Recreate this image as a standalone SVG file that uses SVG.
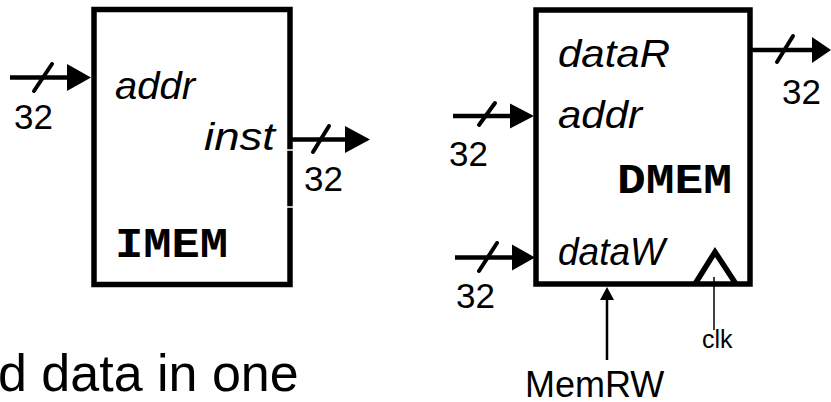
<svg xmlns="http://www.w3.org/2000/svg" width="831" height="402" viewBox="0 0 831 402">
  <style>
    .box { fill: #fff; stroke: #000; stroke-width: 5.5; }
    .bus { stroke: #000; stroke-width: 4.5; fill: none; }
    .slash { stroke: #000; stroke-width: 4; stroke-linecap: round; }
    .head { fill: #000; }
    .port { font-family: "Liberation Sans", Arial, sans-serif; font-style: italic; font-size: 38px; fill: #000; }
    .width { font-family: "Liberation Sans", Arial, sans-serif; font-size: 35px; fill: #000; }
    .title { font-family: "Liberation Mono", "Courier New", monospace; font-weight: bold; font-size: 42px; fill: #000; }
    .sig { font-family: "Liberation Sans", Arial, sans-serif; fill: #000; }
    .thin { stroke: #000; fill: none; }
  </style>

  <!-- instruction memory -->
  <g id="imem">
    <rect class="box" x="94" y="9.5" width="196" height="275"/>
    <text class="port" x="115" y="99" textLength="80" lengthAdjust="spacingAndGlyphs">addr</text>
    <text class="port" x="204" y="150" textLength="71" lengthAdjust="spacingAndGlyphs">inst</text>
    <text class="title" x="115" y="257" textLength="113" lengthAdjust="spacingAndGlyphs">IMEM</text>
    <!-- small breaks in the right edge -->
    <line x1="286" y1="150" x2="294" y2="150" stroke="#fff" stroke-width="1.5"/>
    <line x1="286" y1="207" x2="294" y2="207" stroke="#fff" stroke-width="1.5"/>
  </g>

  <!-- data memory -->
  <g id="dmem">
    <rect class="box" x="536" y="10" width="214" height="274"/>
    <text class="port" x="558" y="67" textLength="112" lengthAdjust="spacingAndGlyphs">dataR</text>
    <text class="port" x="558" y="128" textLength="84" lengthAdjust="spacingAndGlyphs">addr</text>
    <text class="port" x="558" y="265" font-size="36" textLength="107" lengthAdjust="spacingAndGlyphs">dataW</text>
    <text class="title" x="617" y="193" textLength="115" lengthAdjust="spacingAndGlyphs">DMEM</text>
    <!-- clock input -->
    <polyline points="695,284 715,252 736,284" fill="none" stroke="#000" stroke-width="5.5" stroke-linejoin="miter"/>
  </g>

  <g id="connectors">
    <!-- IMEM addr in -->
    <line class="bus" x1="10" y1="77.5" x2="68" y2="77.5"/>
    <polygon class="head" points="67,64 91,77.5 67,91"/>
    <line class="slash" x1="34" y1="91" x2="52" y2="64"/>
    <text class="width" x="14" y="129">32</text>

    <!-- IMEM inst out -->
    <line class="bus" x1="290" y1="139.5" x2="346" y2="139.5"/>
    <polygon class="head" points="345,126 370,139.5 345,153"/>
    <line class="slash" x1="313" y1="152" x2="329" y2="126"/>
    <text class="width" x="304" y="191">32</text>

    <!-- DMEM dataR out -->
    <line class="bus" x1="750" y1="50" x2="813" y2="50"/>
    <polygon class="head" points="812,37 831,50 812,63"/>
    <line class="slash" x1="777" y1="62" x2="793" y2="36"/>
    <text class="width" x="782" y="104">32</text>

    <!-- DMEM addr in -->
    <line class="bus" x1="453" y1="116" x2="511" y2="116"/>
    <polygon class="head" points="510,103.5 534,116 510,128.5"/>
    <line class="slash" x1="479" y1="125" x2="495" y2="103"/>
    <text class="width" x="449" y="166">32</text>

    <!-- DMEM dataW in -->
    <line class="bus" x1="455" y1="257.5" x2="513" y2="257.5"/>
    <polygon class="head" points="512,244.5 535,257.5 512,270.5"/>
    <line class="slash" x1="479" y1="271" x2="497" y2="243"/>
    <text class="width" x="456" y="308">32</text>

    <!-- MemRW control -->
    <line class="thin" x1="607" y1="298" x2="607" y2="360" stroke-width="2.5"/>
    <polygon class="head" points="600,300 607,287 614,300"/>
    <text class="sig" x="525" y="397" font-size="36">MemRW</text>

    <!-- clock -->
    <line class="thin" x1="714" y1="277" x2="714" y2="330" stroke-width="1.5"/>
    <text class="sig" x="702" y="348" font-size="25">clk</text>
  </g>

  <text class="sig" x="-2" y="391" font-size="52">d data in one</text>
</svg>
